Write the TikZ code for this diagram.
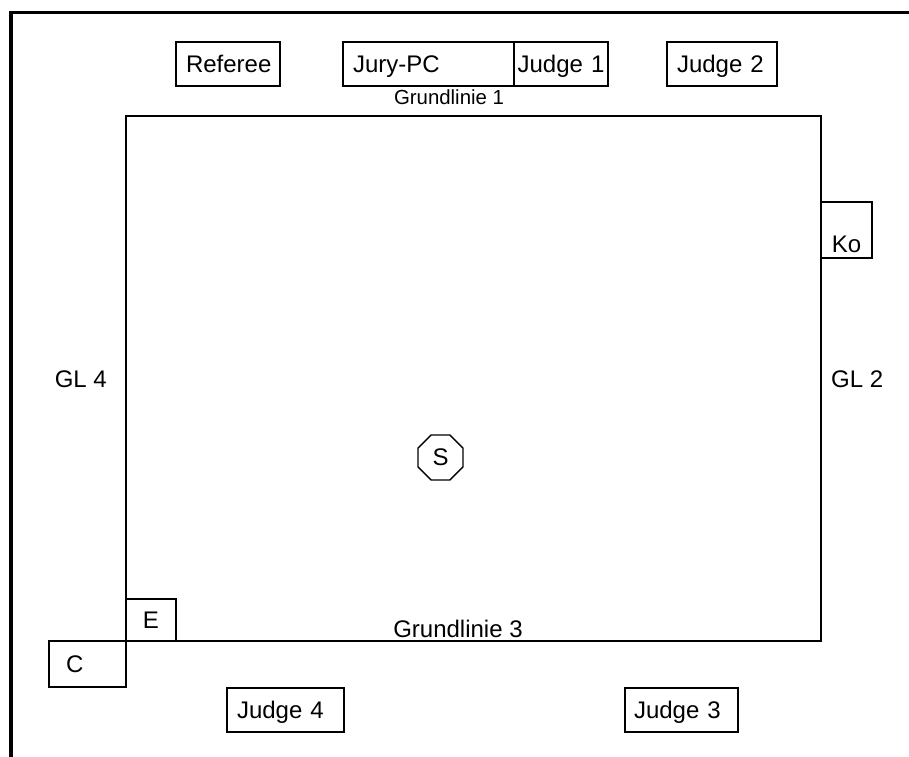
\documentclass[tikz,border=0pt]{standalone}
\usepackage{fontspec}
\setmainfont{Liberation Sans}
\usetikzlibrary{positioning,shapes.geometric}

\begin{document}
\begin{tikzpicture}[
  x=1pt, y=-1pt,
  font=\fontsize{24}{28}\selectfont,
  box/.style={rectangle, draw, line width=2pt, outer sep=0pt, minimum height=44pt, inner xsep=10pt, inner ysep=0pt, align=left, text height=17.2pt, text depth=0pt},
  lbl/.style={inner sep=0pt, text height=17.2pt, text depth=0pt},
  smalltext/.style={font=\fontsize{20.4}{24}\selectfont},
  pitch/.style={rectangle, draw, line width=2pt, outer sep=0pt, inner sep=0pt, minimum width=695pt, minimum height=525pt},
  stopsign/.style={regular polygon, regular polygon sides=8, draw, line width=1.4pt, inner sep=0pt, minimum size=48.7pt}
]
  \useasboundingbox (0,0) rectangle (909,756);
  % outer frame, only the top and left edges are in view
  \draw[line width=3.3pt] (11,760) -- (11,12.7) -- (912,12.7);

  % officials at the top
  \node[box, text width=84pt] (referee) at (228,64) {Referee};
  \node[box, text width=151pt] (jury) at (428.5,63.5) {Jury-PC};
  \node[box, right=0pt of jury, inner xsep=2pt, text width=90pt, align=center] (judgeA) {Judge 1};
  \node[box, text width=90pt] (judgeB) at (722,64) {Judge 2};

  % competition area
  \node[pitch] (field) at (473.5,378.5) {};
  \node[lbl, smalltext, anchor=base] (glA) at ([xshift=-24.5pt, yshift=12pt]field.north) {Grundlinie 1};
  \node[lbl, anchor=base] (glC) at ([xshift=-15.5pt, yshift=4pt]field.south) {Grundlinie 3};
  \node[lbl, left=19pt of field.west] (glD) {GL 4};
  \node[lbl, right=10pt of field.east] (glB) {GL 2};

  \node[box, minimum width=51pt, minimum height=56pt, inner xsep=0pt, anchor=north west] (kobox) at ([yshift=-86pt]field.north east) {};
  \node[inner sep=0pt, anchor=base] (ko) at ([yshift=5.3pt]kobox.south) {Ko};

  \node[box, minimum width=50pt, minimum height=42pt, inner xsep=0pt, anchor=south west] (ebox) at (field.south west) {E};
  \node[box, minimum height=46pt, inner xsep=17pt, text width=43pt, anchor=north east] (cbox) at (field.south west) {C};

  \node[stopsign] (start) at (440.5,457.5) {S};

  % judges at the bottom
  \node[box, text width=97pt] (judgeD) at (285.5,709.5) {Judge 4};
  \node[box, inner xsep=9pt, text width=95pt] (judgeC) at (681.5,710) {Judge 3};
\end{tikzpicture}
\end{document}
